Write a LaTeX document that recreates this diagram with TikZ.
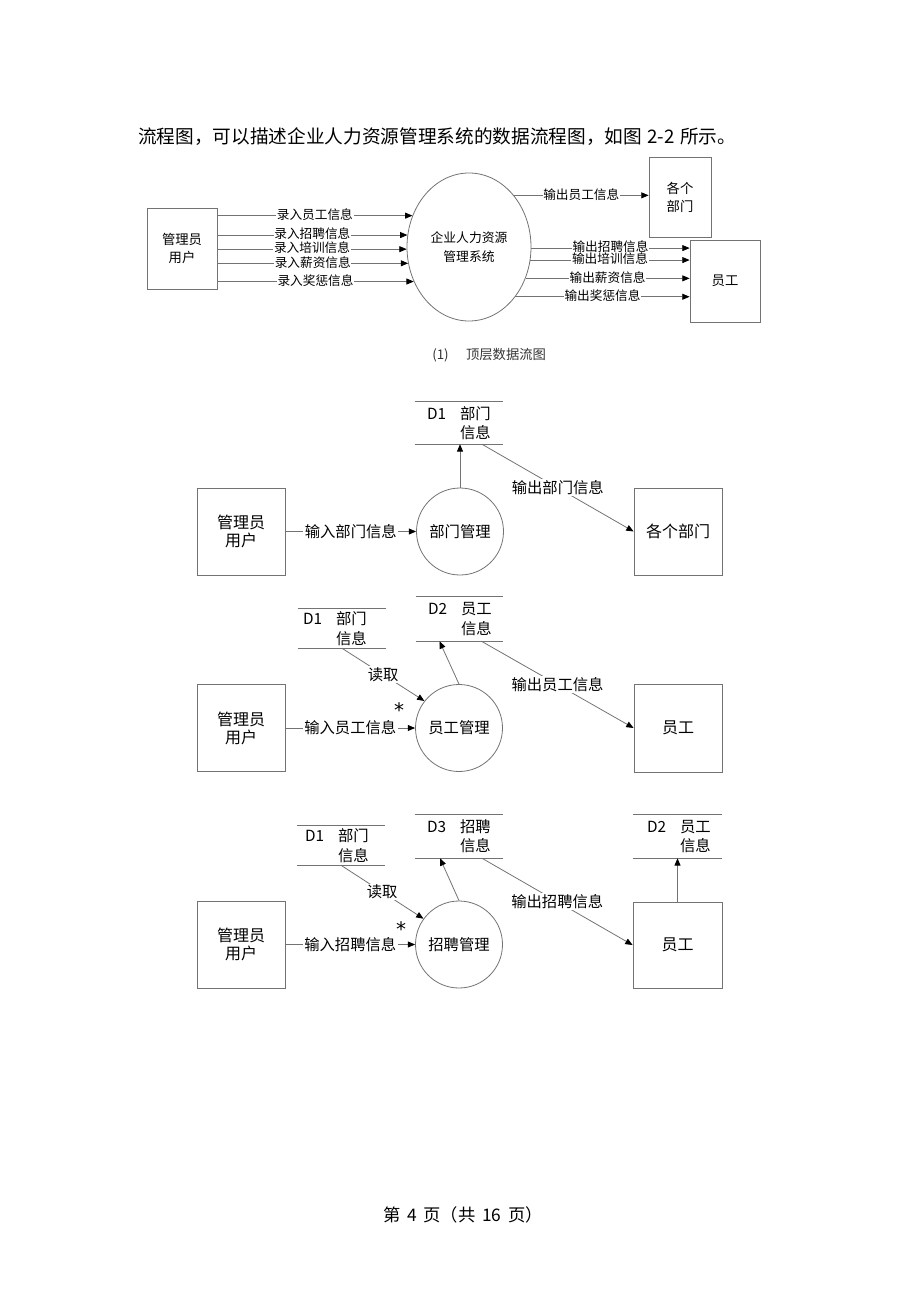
\documentclass[tikz,border=0pt]{standalone}
\usepackage{fontspec}
\setmainfont{Noto Sans CJK SC}
\newfontfamily\dejavu{DejaVu Sans}
\usetikzlibrary{arrows.meta,shapes.geometric,calc}
\definecolor{lg}{rgb}{0.45,0.45,0.45}
\newcommand\dstore[8]{%
  \node[store, sz={#4}{#5}] (#1) at (#2,#3) {};
  \draw[stline] (#1.north west) -- (#1.north east) (#1.south west) -- (#1.south east);
  \node[stxt] (#1t) at ($(#1.west)+(#6,0)$) {\makebox[24.75pt][l]{#7}#8};
}
\begin{document}
\begin{tikzpicture}[x=0.75pt,y=-0.75pt,
 sz/.style 2 args={minimum width=#1*0.75pt, minimum height=#2*0.75pt},
 box/.style={draw=lg, line width=0.6pt, rectangle, inner sep=0pt, align=center},
 proc/.style={draw=lg, line width=0.6pt, circle, inner sep=0pt, minimum size=87*0.75pt, font=\fontsize{11.5}{14}\selectfont},
 flow/.style={draw=lg, line width=0.6pt, -{Triangle[length=5.5pt,width=4.5pt,color=black]}},
 stline/.style={draw=lg, line width=0.6pt},
 tlab/.style={midway, fill=white, inner xsep=0.5pt, inner ysep=0pt, text height=7.2pt, text depth=1.6pt, font=\fontsize{9.5}{11}\selectfont},
 blab/.style={midway, fill=white, inner xsep=1pt, inner ysep=1pt, font=\fontsize{11.5}{14}\selectfont},
 store/.style={rectangle, inner sep=0pt},
 stxt/.style={anchor=west, inner sep=0pt, align=left, font=\fontsize{11.5}{14.5}\selectfont},
 bfont/.style={font=\fontsize{12}{13.5}\selectfont},
 tfont/.style={font=\fontsize{10}{13.5}\selectfont},
 astx/.style={anchor=north, inner sep=0pt, font=\dejavu\fontsize{15}{16}\selectfont}]
\useasboundingbox (0,0) rectangle (920,1302);

% header
\node[anchor=west, inner sep=0pt, font=\fontsize{14}{16}\selectfont] (hdr) at (138,137) {流程图，可以描述企业人力资源管理系统的数据流程图，如图\hspace{4pt}2-2\hspace{4pt}所示。};

% ---------- top-level diagram ----------
\node[box, sz={70}{81}, tfont] (tA) at (182,248.5) {管理员\\用户};
\node[draw=lg, line width=0.6pt, ellipse, inner sep=0pt, sz={124}{148}, align=center, font=\fontsize{9.6}{14}\selectfont] (tE) at (469,247) {企业人力资源\\管理系统};
\node[box, sz={62}{80}, tfont] (tB) at (680,197) {各个\\部门};
\node[box, sz={70}{82}, tfont] (tC) at (725,281) {员工};

\draw[flow] (tA.east |- tE.151) -- node[tlab]{录入员工信息} (tE.151);
\draw[flow] (tA.east |- tE.169) -- node[tlab]{录入招聘信息} (tE.169);
\draw[flow] (tA.east |- tE.182) -- node[tlab]{录入培训信息} (tE.182);
\draw[flow] (tA.east |- tE.195) -- node[tlab]{录入薪资信息} (tE.195);
\draw[flow] (tA.east |- tE.212) -- node[tlab]{录入奖惩信息} (tE.212);

\draw[flow] (tE.49) -- node[tlab]{输出员工信息} (tB.west |- tE.49);
\draw[flow] (tE.359) -- node[tlab]{输出招聘信息} (tC.west |- tE.359);
\draw[flow] (tE.348) -- node[tlab]{输出培训信息} (tC.west |- tE.348);
\draw[flow] (tE.331) -- node[tlab]{输出薪资信息} (tC.west |- tE.331);
\draw[flow] (tE.313) -- node[tlab]{输出奖惩信息} (tC.west |- tE.313);

\node[anchor=west, inner sep=0pt, text=black!80, font=\fontsize{10}{12}\selectfont] (cap) at (432,355) {(1)\hspace{13pt}顶层数据流图};

% ---------- 部门管理 ----------
\node[box, sz={88}{87}, bfont] (a1) at (241,531.5) {管理员\\用户};
\node[proc] (p1) at (460,531.5) {部门管理};
\node[box, sz={88}{87}, bfont] (b1) at (678,531.5) {各个部门};
\dstore{s1}{459}{423}{88}{42}{12}{D1}{部门\\\hspace*{24.75pt}信息}
\draw[flow] (a1.east) -- node[blab]{输入部门信息} (p1.west);
\draw[flow] (p1.north) -- (p1.north |- s1.south);
\draw[flow] ($(s1.south)+(23,0)$) -- node[blab]{输出部门信息} (b1.west);

% ---------- 员工管理 ----------
\node[box, sz={88}{87}, bfont] (a2) at (241,728) {管理员\\用户};
\node[proc] (p2) at (459,728) {员工管理};
\node[box, sz={88}{88}, bfont] (b2) at (678,728) {员工};
\dstore{s2a}{342}{628.5}{88}{39}{5}{D1}{部门\\\hspace*{24.75pt}信息}
\dstore{s2b}{459.5}{619}{87}{44}{12}{D2}{员工\\\hspace*{24.75pt}信息}
\draw[flow] (a2.east) -- node[blab]{输入员工信息} (p2.west);
\draw[flow] (s2a.south) -- node[blab]{读取} (p2.142);
\node[astx] (ast2) at (399,702) {*};
\draw[flow] (p2.north) -- ($(s2b.south)+(-20,0)$);
\draw[flow] ($(s2b.south)+(22,0)$) -- node[blab]{输出员工信息} (b2.west);

% ---------- 招聘管理 ----------
\node[box, sz={88}{87}, bfont] (a3) at (241,944.5) {管理员\\用户};
\node[proc] (p3) at (459,944.5) {招聘管理};
\node[box, sz={89}{86}, bfont] (b3) at (677.5,945) {员工};
\dstore{s3a}{341}{845.5}{88}{39}{8}{D1}{部门\\\hspace*{24.75pt}信息}
\dstore{s3b}{459}{836.5}{88}{43}{12}{D3}{招聘\\\hspace*{24.75pt}信息}
\dstore{s3c}{677.5}{836.5}{89}{43}{14}{D2}{员工\\\hspace*{24.75pt}信息}
\draw[flow] (a3.east) -- node[blab]{输入招聘信息} (p3.west);
\draw[flow] (s3a.south) -- node[blab]{读取} (p3.144);
\node[astx] (ast3) at (401,921) {*};
\draw[flow] (p3.north) -- ($(s3b.south)+(-19,0)$);
\draw[flow] ($(s3b.south)+(23,0)$) -- node[blab]{输出招聘信息} (b3.west);
\draw[flow] (b3.north) -- (b3.north |- s3c.south);

% footer
\node[inner sep=0pt, font=\fontsize{13}{15}\selectfont] (ftr) at (463,1215) {第\hspace{5pt}4\hspace{5pt}页（共\hspace{5pt}16\hspace{5pt}页）};
\end{tikzpicture}
\end{document}
